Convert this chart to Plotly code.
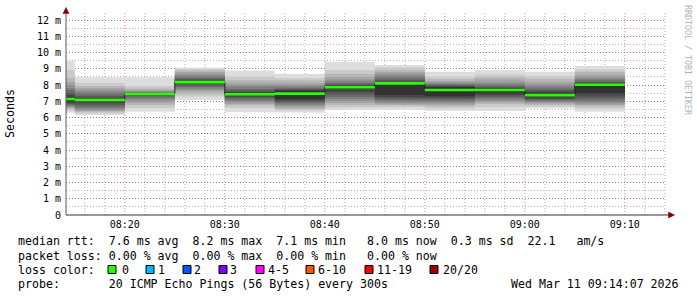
import plotly.graph_objects as go
from datetime import datetime, timedelta

# ---------------- data ----------------
period_end = ["2026-03-11 08:15", "2026-03-11 08:20", "2026-03-11 08:25", "2026-03-11 08:30",
              "2026-03-11 08:35", "2026-03-11 08:40", "2026-03-11 08:45", "2026-03-11 08:50",
              "2026-03-11 08:55", "2026-03-11 09:00", "2026-03-11 09:05", "2026-03-11 09:10"]

median_ms = [7.14, 7.08, 7.45, 8.18, 7.43, 7.47, 7.86, 8.10, 7.69, 7.69, 7.38, 8.02]

# 20 sorted ping rtts (ms) per 5-minute period
smoke_ms = [
    [6.30, 6.43, 6.52, 6.58, 6.65, 6.71, 6.77, 6.83, 6.89, 7.02, 7.26, 7.38, 7.51, 7.69, 7.82, 8.00, 8.18, 8.43, 8.92, 9.50],
    [6.15, 6.25, 6.34, 6.40, 6.46, 6.55, 6.65, 6.77, 6.89, 7.05, 7.11, 7.20, 7.32, 7.45, 7.57, 7.69, 7.82, 7.94, 8.12, 8.47],
    [6.36, 6.58, 6.77, 6.89, 7.02, 7.14, 7.23, 7.32, 7.38, 7.43, 7.46, 7.48, 7.51, 7.54, 7.58, 7.63, 7.69, 7.78, 7.94, 8.47],
    [7.08, 7.29, 7.45, 7.60, 7.69, 7.78, 7.88, 7.97, 8.06, 8.15, 8.23, 8.31, 8.37, 8.46, 8.55, 8.68, 8.80, 8.89, 8.98, 9.08],
    [6.34, 6.58, 6.74, 6.83, 6.92, 7.02, 7.11, 7.20, 7.29, 7.40, 7.49, 7.57, 7.66, 7.75, 7.88, 8.00, 8.15, 8.31, 8.52, 8.90],
    [6.30, 6.43, 6.52, 6.62, 6.71, 6.80, 6.89, 6.98, 7.05, 7.14, 7.66, 7.69, 7.75, 7.82, 7.91, 8.00, 8.12, 8.28, 8.43, 8.68],
    [6.46, 6.62, 6.77, 6.89, 7.02, 7.14, 7.26, 7.42, 7.57, 7.75, 7.91, 7.97, 8.03, 8.12, 8.22, 8.34, 8.49, 8.68, 8.92, 9.43],
    [6.50, 6.65, 6.74, 6.80, 6.89, 6.98, 7.08, 7.17, 7.26, 7.38, 8.06, 8.18, 8.31, 8.43, 8.55, 8.68, 8.80, 8.92, 9.08, 9.23],
    [6.42, 6.55, 6.68, 6.77, 6.86, 6.95, 7.05, 7.14, 7.23, 7.32, 7.88, 7.92, 7.97, 8.03, 8.09, 8.15, 8.25, 8.37, 8.52, 8.82],
    [6.40, 6.65, 6.83, 6.92, 7.02, 7.11, 7.20, 7.29, 7.38, 7.54, 7.75, 7.82, 7.88, 7.97, 8.06, 8.18, 8.34, 8.49, 8.65, 8.92],
    [6.55, 6.68, 6.77, 6.86, 6.92, 6.98, 7.05, 7.11, 7.17, 7.26, 7.51, 7.60, 7.69, 7.78, 7.91, 8.03, 8.18, 8.37, 8.55, 8.82],
    [6.36, 6.55, 6.68, 6.77, 6.86, 6.95, 7.08, 7.20, 7.35, 7.51, 8.06, 8.12, 8.18, 8.28, 8.37, 8.49, 8.65, 8.80, 8.95, 9.17],
]

x_range = ["2026-03-11 08:14:07", "2026-03-11 09:14:07"]
x_minor_ticks = ["2026-03-11 08:16", "2026-03-11 08:18", "2026-03-11 08:22",
                 "2026-03-11 08:24", "2026-03-11 08:26", "2026-03-11 08:28",
                 "2026-03-11 08:32", "2026-03-11 08:34", "2026-03-11 08:36", "2026-03-11 08:38",
                 "2026-03-11 08:42", "2026-03-11 08:44", "2026-03-11 08:46",
                 "2026-03-11 08:48", "2026-03-11 08:52", "2026-03-11 08:54",
                 "2026-03-11 08:56", "2026-03-11 08:58", "2026-03-11 09:02",
                 "2026-03-11 09:04", "2026-03-11 09:06", "2026-03-11 09:08",
                 "2026-03-11 09:12", "2026-03-11 09:14"]
x_major_ticks = ["2026-03-11 08:20", "2026-03-11 08:30", "2026-03-11 08:40",
                 "2026-03-11 08:50", "2026-03-11 09:00", "2026-03-11 09:10"]
x_major_labels = ["08:20", "08:30", "08:40", "08:50", "09:00", "09:10"]

y_tickvals = [0, 1, 2, 3, 4, 5, 6, 7, 8, 9, 10, 11, 12]
y_ticktext = ["0", "1 m", "2 m", "3 m", "4 m", "5 m", "6 m", "7 m", "8 m", "9 m", "10 m", "11 m", "12 m"]

loss_labels = ["0", "1", "2", "3", "4-5", "6-10", "11-19", "20/20"]
loss_colors = ["#26ff00", "#00b8ff", "#0059ff", "#7e00ff", "#ff00ff", "#ff5500", "#ff0000", "#a00000"]

legend_rtt = "median rtt:  7.6 ms avg  8.2 ms max  7.1 ms min   8.0 ms now  0.3 ms sd  22.1   am/s"
legend_loss = "packet loss: 0.00 % avg  0.00 % max  0.00 % min   0.00 % now"
legend_probe = "probe:       20 ICMP Echo Pings (56 Bytes) every 300s"
stamp = "Wed Mar 11 09:14:07 2026"

# ---------------- layout helpers ----------------
W, H = 697, 297
PL, PR, PT, PB = 66, 666, 15, 215
y_top = (PB - PT) / 16.25


def px(xp):
    return (xp - PL) / (PR - PL)


def py(yp):
    return (PB - yp) / (PB - PT)


STEP = timedelta(minutes=5)
ends = [datetime.fromisoformat(s) for s in period_end]
starts = [e - STEP for e in ends]


def step_xy(vals):
    xs, ys = [], []
    for s, e, v in zip(starts, ends, vals):
        xs += [s, e]
        ys += [v, v]
    return xs, ys


fig = go.Figure()

# smoke layers (outer = light, inner = dark)
n = 20
half = n // 2
for k in range(1, half + 1):
    c = int(190 / half * (half - k)) + 50
    color = "#%02x%02x%02x" % (c, c, c)
    lo = [seg[k - 1] for seg in smoke_ms]
    hi = [seg[n - k] for seg in smoke_ms]
    xl, yl = step_xy(lo)
    xh, yh = step_xy(hi)
    fig.add_trace(go.Scatter(x=xl + xh[::-1], y=yl + yh[::-1], fill="toself",
                             fillcolor=color, mode="lines", line=dict(width=0),
                             hoverinfo="skip", showlegend=False))

# median (dark step line)
xm, ym = step_xy(median_ms)
fig.add_trace(go.Scatter(x=xm, y=ym, mode="lines", line=dict(color="#202020", width=1),
                         showlegend=False, hoverinfo="skip"))
# median colored by loss (0 loss -> green), horizontal pieces
xg, yg = [], []
for s, e, v in zip(starts, ends, median_ms):
    xg += [s, e, None]
    yg += [v, v, None]
fig.add_trace(go.Scatter(x=xg, y=yg, mode="lines", line=dict(color=loss_colors[0], width=2.6),
                         showlegend=False, hoverinfo="skip", connectgaps=False))

MONO = "DejaVu Sans Mono"
grid_minor = "rgba(130,130,130,0.6)"
grid_major = "rgba(210,60,60,0.6)"

fig.update_layout(
    width=W, height=H,
    margin=dict(l=PL, r=W - PR, t=PT, b=H - PB),
    paper_bgcolor="#ffffff", plot_bgcolor="#ffffff",
    showlegend=False,
    font=dict(family=MONO, size=10, color="#000000"),
    xaxis=dict(
        type="date",
        range=x_range,
        tickmode="array", tickvals=x_major_ticks, ticktext=x_major_labels,
        showgrid=False,
        ticks="", showline=False, zeroline=False,
        tickfont=dict(family=MONO, size=10),
        ticklabelstandoff=2,
    ),
    yaxis=dict(
        range=[0, y_top],
        tickvals=y_tickvals, ticktext=y_ticktext,
        showgrid=True, gridcolor=grid_major, griddash="1px,2px", gridwidth=1,
        minor=dict(dtick=0.5, showgrid=True, gridcolor=grid_minor, griddash="1px,2px", gridwidth=1),
        ticks="", showline=False, zeroline=False,
        tickfont=dict(family=MONO, size=10),
        ticklabelstandoff=4,
    ),
)

shapes = []
# vertical grid lines: 2-minute gray dotted, 10-minute red dotted, under the data
for t in x_minor_ticks:
    shapes.append(dict(type="line", xref="x", yref="paper", x0=t, x1=t, y0=0, y1=1.01,
                       layer="below", line=dict(color=grid_minor, width=1, dash="1px,2px")))
for t in x_major_ticks:
    shapes.append(dict(type="line", xref="x", yref="paper", x0=t, x1=t, y0=0, y1=1.01,
                       layer="below", line=dict(color=grid_major, width=1, dash="1px,2px")))

axis_col = "#333333"
arrow_col = "#7f0000"
# axes lines
shapes.append(dict(type="line", xref="paper", yref="paper", x0=px(66), x1=px(669), y0=py(215), y1=py(215),
                   line=dict(color=axis_col, width=1)))
shapes.append(dict(type="line", xref="paper", yref="paper", x0=px(66), x1=px(66), y0=py(215), y1=py(12),
                   line=dict(color="#555555", width=1)))
# arrows
shapes.append(dict(type="path", xref="paper", yref="paper",
                   path="M %f,%f L %f,%f L %f,%f Z" % (px(63), py(13.5), px(66), py(7.5), px(69), py(13.5)),
                   fillcolor=arrow_col, line=dict(color=arrow_col, width=0.5)))
shapes.append(dict(type="path", xref="paper", yref="paper",
                   path="M %f,%f L %f,%f L %f,%f Z" % (px(668.5), py(212), px(674.5), py(215), px(668.5), py(218)),
                   fillcolor=arrow_col, line=dict(color=arrow_col, width=0.5)))

annotations = []


def text(xp, yp, s, size=11.6, color="#000000", anchor="left", angle=0):
    annotations.append(dict(xref="paper", yref="paper", x=px(xp), y=py(yp), text=s,
                            showarrow=False, xanchor=anchor, yanchor="middle", textangle=angle,
                            font=dict(family=MONO, size=size, color=color)))


text(10, 114, "Seconds", anchor="center", angle=-90)
text(688, 60, "RRDTOOL / TOBI OETIKER", size=8.3, color="#b4b4b4", anchor="center", angle=90)

text(16, 241, legend_rtt.replace(" ", "&nbsp;"))
text(16, 255.5, legend_loss.replace(" ", "&nbsp;"))
text(16, 269.5, "loss&nbsp;color:")
text(16, 283.5, legend_probe.replace(" ", "&nbsp;"))
text(681, 283.5, stamp.replace(" ", "&nbsp;"), anchor="right")

box_left = [108, 146, 183, 219, 256, 306, 365, 430]
label_left = [121, 157, 193, 229, 267, 317, 376, 442]
for bx, lx, lab, col in zip(box_left, label_left, loss_labels, loss_colors):
    shapes.append(dict(type="rect", xref="paper", yref="paper", x0=px(bx), x1=px(bx + 8),
                       y0=py(273.5), y1=py(265.5), fillcolor=col, line=dict(color="#000000", width=1)))
    text(lx - 1, 269.5, lab)

fig.update_layout(shapes=shapes, annotations=annotations)

fig.write_html("out.html")
